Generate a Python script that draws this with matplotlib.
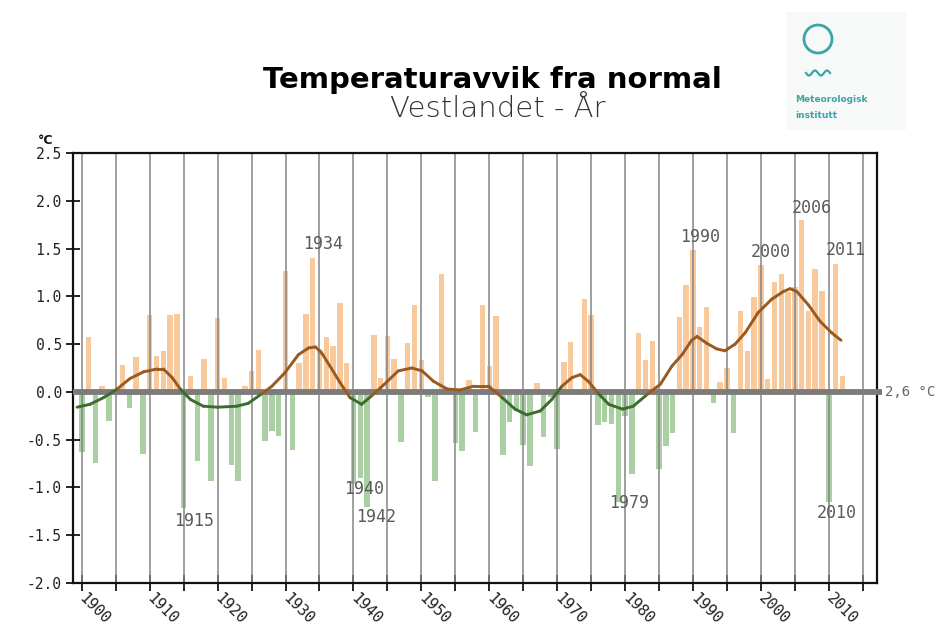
import numpy as np
import matplotlib
matplotlib.use("Agg")
import matplotlib.pyplot as plt
from matplotlib.collections import LineCollection
from matplotlib.patches import Ellipse, Rectangle
from matplotlib.lines import Line2D

# ---------------- data ----------------
years = list(range(1900, 2013))
anomaly = [
    -0.63, 0.57, -0.74, 0.06, -0.30, -0.03, 0.28, -0.17, 0.36, -0.65,   # 1900-1909
    0.80, 0.38, 0.43, 0.80, 0.82, -1.22, 0.17, -0.72, 0.34, -0.93,      # 1910-1919
    0.77, 0.15, -0.77, -0.93, 0.06, 0.22, 0.44, -0.51, -0.41, -0.46,    # 1920-1929
    1.27, -0.61, 0.30, 0.82, 1.40, 0.45, 0.57, 0.48, 0.93, 0.30,        # 1930-1939
    -0.96, -0.90, -1.20, 0.60, 0.15, 0.58, 0.34, -0.52, 0.51, 0.91,     # 1940-1949
    0.33, -0.05, -0.93, 1.23, 0.03, -0.54, -0.62, 0.12, -0.42, 0.91,    # 1950-1959
    0.27, 0.79, -0.66, -0.32, -0.20, -0.56, -0.78, 0.09, -0.47, -0.05,  # 1960-1969
    -0.60, 0.31, 0.52, -0.03, 0.97, 0.80, -0.35, -0.32, -0.34, -1.15,   # 1970-1979
    -0.25, -0.86, 0.62, 0.33, 0.53, -0.81, -0.57, -0.43, 0.78, 1.12,    # 1980-1989
    1.48, 0.68, 0.89, -0.12, 0.10, 0.25, -0.43, 0.85, 0.43, 0.99,       # 1990-1999
    1.33, 0.14, 1.15, 1.23, 1.05, 1.10, 1.80, 0.85, 1.29, 1.06,         # 2000-2009
    -1.15, 1.34, 0.17,                                                  # 2010-2012
]

# smoothed curve
smooth_years = [1899.3, 1901.2, 1903.2, 1905.2, 1907.1, 1909.1, 1911.1, 1912.0, 1913.3,
                1914.5, 1916.0, 1917.9, 1920.0, 1922.8, 1924.5, 1926.5, 1928.0, 1929.9,
                1931.9, 1933.4, 1934.4, 1935.3, 1936.8, 1938.0, 1939.5, 1941.2, 1942.7,
                1944.4, 1946.6, 1948.6, 1950.1, 1951.8, 1953.8, 1955.7, 1957.7, 1959.9,
                1961.9, 1963.8, 1965.5, 1967.5, 1969.2, 1970.7, 1972.2, 1973.4, 1974.6,
                1976.1, 1977.6, 1979.6, 1981.2, 1983.2, 1985.2, 1986.9, 1988.4, 1989.8,
                1990.6, 1992.0, 1993.5, 1994.7, 1996.2, 1997.7, 1999.6, 2001.6, 2003.3,
                2004.3, 2005.3, 2007.0, 2008.7, 2010.4, 2011.8]
smooth_vals = [-0.16, -0.13, -0.06, 0.03, 0.14, 0.21, 0.24, 0.24, 0.15,
               0.03, -0.08, -0.15, -0.16, -0.15, -0.12, -0.02, 0.06, 0.20,
               0.39, 0.46, 0.47, 0.41, 0.24, 0.10, -0.06, -0.13, -0.04,
               0.07, 0.22, 0.25, 0.22, 0.11, 0.03, 0.02, 0.06, 0.06,
               -0.06, -0.18, -0.24, -0.20, -0.08, 0.06, 0.15, 0.18, 0.11,
               -0.02, -0.13, -0.18, -0.15, -0.03, 0.08, 0.27, 0.39, 0.54,
               0.58, 0.51, 0.45, 0.43, 0.50, 0.62, 0.83, 0.97, 1.05,
               1.08, 1.05, 0.91, 0.74, 0.62, 0.54]

labelled_years = [1915, 1934, 1940, 1942, 1979, 1990, 2000, 2006, 2010, 2011]
grid_years = list(range(1900, 2016, 5))
decade_labels = [str(y) if y % 10 == 0 else "" for y in grid_years]
y_ticks = [2.5, 2.0, 1.5, 1.0, 0.5, 0.0, -0.5, -1.0, -1.5, -2.0]

title = "Temperaturavvik fra normal"
subtitle = "Vestlandet - År"
normal_label = "2,6 °C"
unit_label = "°C"

# ---------------- style ----------------
W, H = 941, 632
ORANGE = "#f7c99c"
GREEN = "#a9cfa2"
CURVE_WARM = "#9a5a1f"
CURVE_COLD = "#3c6c2e"
GRID = "#858585"
TEAL = "#3aa5a8"
MONO = "DejaVu Sans Mono"

# label offsets in pixels (dx right, dy down) relative to bar tip
label_offsets = {1915: (10, 13), 1934: (10, -14), 1940: (11, 5), 1942: (9, 10),
                 1979: (11, 1), 1990: (7, -13), 2000: (10, -13), 2006: (10, -12),
                 2010: (8, 11), 2011: (10, -14)}

fig = plt.figure(figsize=(W / 100, H / 100), dpi=100)
ax = fig.add_axes([73 / W, 49 / H, 804 / W, 430 / H])

# bars
colors = [ORANGE if v >= 0 else GREEN for v in anomaly]
ax.bar(years, anomaly, width=0.8, color=colors, zorder=1, linewidth=0)

# vertical grid lines
for gy in grid_years:
    ax.axvline(gy, color=GRID, lw=1.1, zorder=2)

# zero line
ax.axhline(0, color="#7b7b7b", lw=4.2, zorder=3, xmin=0, xmax=1.006,
           clip_on=False, solid_capstyle="butt")

# smoothed curve, coloured by sign
pts = np.column_stack([smooth_years, smooth_vals])
segs = np.stack([pts[:-1], pts[1:]], axis=1)
mids = (pts[:-1, 1] + pts[1:, 1]) / 2
seg_cols = [CURVE_WARM if m >= 0 else CURVE_COLD for m in mids]
lc = LineCollection(segs, colors=seg_cols, linewidths=2.1, zorder=4,
                    capstyle="round", joinstyle="round")
ax.add_collection(lc)

ax.set_xlim(1898.7, 2017.1)
ax.set_ylim(-2.0, 2.5)

ax.set_xticks(grid_years)
ax.set_xticklabels(decade_labels, rotation=-45, rotation_mode="anchor",
                   ha="left", va="center", fontsize=11, family=MONO, color="#222222")
ax.set_yticks(y_ticks)
ax.set_yticklabels([f"{t:.1f}" for t in y_ticks], fontsize=10.5, family=MONO,
                   color="#222222")
ax.tick_params(axis="x", direction="inout", length=12, width=1.2, pad=3)
ax.tick_params(axis="y", direction="inout", length=10, width=1.2, pad=3)
for sp in ax.spines.values():
    sp.set_linewidth(1.6)
    sp.set_color("#111111")

# year annotations
for yr in labelled_years:
    v = anomaly[years.index(yr)]
    dx, dy = label_offsets[yr]
    ax.annotate(str(yr), xy=(yr, v), xytext=(dx * 0.72, -dy * 0.72),
                textcoords="offset points", ha="center", va="center",
                fontsize=12, family=MONO, color="#5a5a5a", zorder=5)

# normal value label
ax.annotate(normal_label, xy=(1, 0), xycoords=("axes fraction", "data"),
            xytext=(6, 0), textcoords="offset points", ha="left", va="center",
            fontsize=10, color="#666666", family=MONO)

# unit label
fig.text(46 / W, 1 - 140 / H, unit_label, ha="center", va="center",
         fontsize=9, color="#111111", fontweight="bold")

# titles
fig.text(492 / W, 1 - 80 / H, title, ha="center", va="center",
         fontsize=21, fontweight="bold", color="#000000")
fig.text(498 / W, 1 - 109 / H, subtitle, ha="center", va="center",
         fontsize=21, fontweight="light", color="#333333")

# logo
fig.add_artist(Rectangle((786 / W, 1 - 130 / H), 120 / W, 118 / H,
                         transform=fig.transFigure, facecolor="#f7f8f8",
                         edgecolor="none", zorder=0))
fig.add_artist(Ellipse((818 / W, 1 - 39 / H), 28 / W, 28 / H,
                       transform=fig.transFigure, facecolor="none",
                       edgecolor=TEAL, lw=2.0))
wx = np.linspace(806, 830, 60)
wy = 73 + 2.5 * np.sin((wx - 806) / 24 * 4 * np.pi)
fig.add_artist(Line2D(wx / W, 1 - wy / H, transform=fig.transFigure,
                      color=TEAL, lw=1.6))
fig.text(795 / W, 1 - 100 / H, "Meteorologisk", ha="left", va="center",
         fontsize=6.5, fontweight="bold", color=TEAL)
fig.text(795 / W, 1 - 116 / H, "institutt", ha="left", va="center",
         fontsize=6.5, fontweight="bold", color=TEAL)

fig.savefig("out.png", dpi=100, facecolor="white")
